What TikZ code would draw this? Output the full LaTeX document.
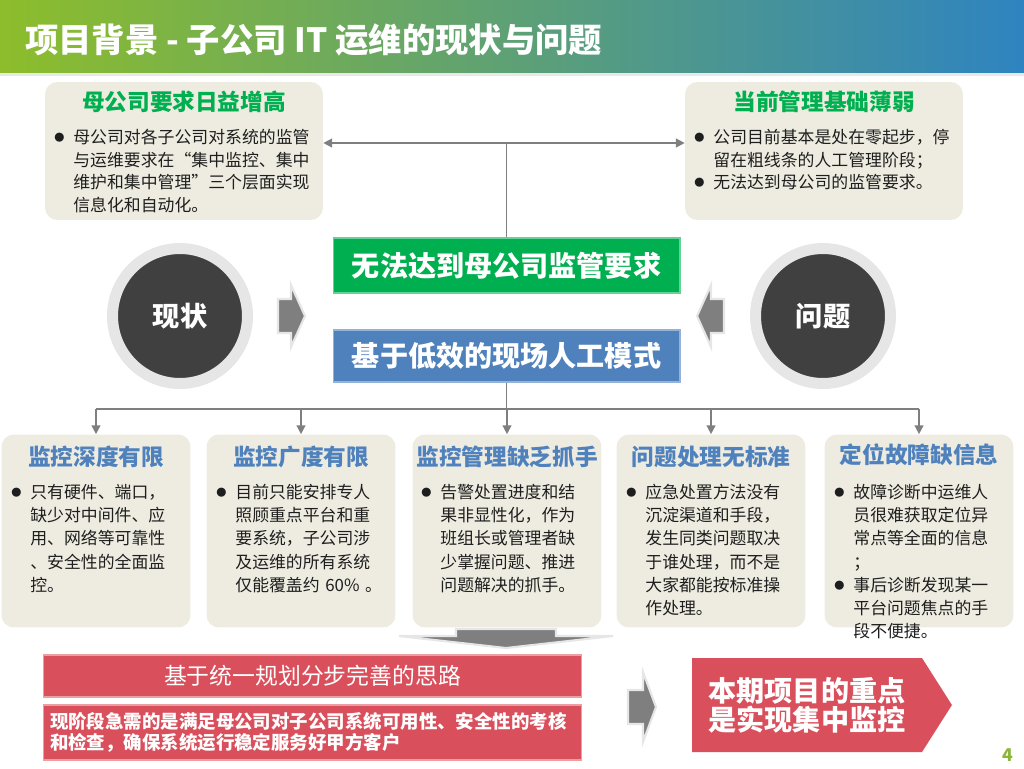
\documentclass[tikz,border=0pt]{standalone}
\usepackage{fontspec}
\setmainfont{Noto Sans CJK SC}
\usepackage{graphicx}
\usepackage{tikz}
\usetikzlibrary{arrows.meta, shapes.symbols}
\definecolor{bandgreen}{HTML}{8DBD2B}
\definecolor{bandblue}{HTML}{2E84C0}
\definecolor{panelbeige}{HTML}{EEECE1}
\definecolor{leafgreen}{HTML}{00B050}
\definecolor{steelblue}{HTML}{4F81BD}
\definecolor{alertred}{HTML}{D9505C}
\definecolor{discgray}{HTML}{404040}
\definecolor{ringgray}{HTML}{E6E6E6}
\definecolor{wiregray}{HTML}{7F7F7F}
\definecolor{textdark}{HTML}{1E1E1E}
\definecolor{pagegreen}{HTML}{8DB43B}
\newcommand{\dotmark}{\raisebox{0.12em}{\scalebox{0.6}{●}}}
\newcommand{\bitem}{\par\hangindent=11.4pt\hangafter=1\noindent\makebox[11.4pt][l]{\hspace{0.6pt}\dotmark}}
\tikzset{
  conn/.style={line width=0.85pt, wiregray},
  arr/.style={-{Triangle[length=5pt, width=5pt]}, line width=0.85pt, wiregray},
  infobox/.style={rectangle, rounded corners=7pt, fill=panelbeige, inner sep=0pt},
  boxtitle/.style={font=\bfseries\fontsize{12.9}{15}\selectfont, inner sep=0pt},
  boxtext/.style={anchor=north west, inner sep=0pt, align=left, text=textdark, font=\fontsize{9.6}{13.2}\selectfont},
  banner/.style={rectangle, inner sep=0pt, text=white, font=\bfseries\fontsize{16}{19}\selectfont},
  redbar/.style={rectangle, inner sep=0pt, fill=alertred, draw=alertred!55!white, line width=0.6pt, text=white},
  blockarr/.style={fill=wiregray, draw=ringgray, line width=1.2pt, line join=miter},
}

\begin{document}
\begin{tikzpicture}[x=0.02cm, y=-0.02cm, font=\fontsize{9.6}{13.2}\selectfont,
    panel/.style={infobox, minimum width=3.78cm, minimum height=3.86cm},
    toppanel/.style={infobox, minimum width=5.56cm, minimum height=2.76cm},
    disc/.style={circle, fill=discgray, draw=ringgray, line width=0.22cm, minimum size=2.7cm, text=white, font=\bfseries\fontsize{15.5}{18}\selectfont}]
  \useasboundingbox (0,0) rectangle (1024,768);

  % Header band
  \shade[left color=bandgreen, right color=bandblue] (0,0) rectangle (1024,73);
  \fill[gray!18] (0,73) rectangle (1024,76);
  \node[anchor=west, text=white, font=\bfseries\fontsize{19}{23}\selectfont] (H) at (19,40) {项目背景 - 子公司 IT 运维的现状与问题};

  % Top panels
  \node[toppanel] (M) at (184,151) {};
  \node[boxtitle, text=leafgreen] (Mt) at (184,102) {母公司要求日益增高};
  \node[boxtext, text width=5.3cm, font=\fontsize{9.6}{12.8}\selectfont] (Mb) at (53,121) {\bitem 母公司对各子公司对系统的监管\newline 与运维要求在“集中监控、集中\newline 维护和集中管理”三个层面实现\newline 信息化和自动化。\par};
  \node[toppanel] (W) at (824,151) {};
  \node[boxtitle, text=leafgreen] (Wt) at (824,102) {当前管理基础薄弱};
  \node[boxtext, text width=5.3cm, font=\fontsize{9.6}{12.8}\selectfont] (Wb) at (693,121) {\bitem 公司目前基本是处在零起步，停\newline 留在粗线条的人工管理阶段；\bitem 无法达到母公司的监管要求。\par};

  % Middle row
  \node[disc] (C1) at (180,316) {现状};
  \node[disc] (C2) at (823,316) {问题};
  \node[banner, fill=leafgreen, draw=leafgreen!60!white, line width=0.6pt, minimum width=6.94cm, minimum height=1.1cm] (G) at (506.5,265.5) {无法达到母公司监管要求};
  \node[banner, fill=steelblue, draw=steelblue!60!white, line width=0.6pt, minimum width=6.94cm, minimum height=1.04cm] (B) at (506.5,356) {基于低效的现场人工模式};
  \fill[blockarr] (278,299) -- (291,299) -- (291,285) -- (305,316) -- (291,347) -- (291,333) -- (278,333) -- cycle;
  \fill[blockarr] (724,299) -- (711,299) -- (711,285) -- (697,316) -- (711,347) -- (711,333) -- (724,333) -- cycle;

  \coordinate (J) at (G.north |- 0,143);
  \draw[conn] (G.north) -- (J);
  \draw[arr] (J) -- (J -| M.east);
  \draw[arr] (J) -- (J -| W.west);

  % Bottom row of five panels
  \node[panel] (K1) at (96,531) {};
  \node[panel] (K2) at (301,531) {};
  \node[panel] (K3) at (507,531) {};
  \node[panel] (K4) at (711,531) {};
  \node[panel] (K5) at (919,531) {};
  \node[boxtitle, text=steelblue] (K1t) at (96,457) {监控深度有限};
  \node[boxtitle, text=steelblue] (K2t) at (301,457) {监控广度有限};
  \node[boxtitle, text=steelblue] (K3t) at (507,457) {监控管理缺乏抓手};
  \node[boxtitle, text=steelblue] (K4t) at (711,457) {问题处理无标准};
  \node[boxtitle, text=steelblue] (K5t) at (919,455) {定位故障缺信息};
  \node[boxtext, text width=3.4cm] (K1b) at (10,475) {\bitem 只有硬件、端口，\newline 缺少对中间件、应\newline 用、网络等可靠性\newline 、安全性的全面监\newline 控。\par};
  \node[boxtext, text width=3.4cm] (K2b) at (215,475) {\bitem 目前只能安排专人\newline 照顾重点平台和重\newline 要系统，子公司涉\newline 及运维的所有系统\newline 仅能覆盖约 60\% 。\par};
  \node[boxtext, text width=3.4cm] (K3b) at (420,475) {\bitem 告警处置进度和结\newline 果非显性化，作为\newline 班组长或管理者缺\newline 少掌握问题、推进\newline 问题解决的抓手。\par};
  \node[boxtext, text width=3.4cm] (K4b) at (625,475) {\bitem 应急处置方法没有\newline 沉淀渠道和手段，\newline 发生同类问题取决\newline 于谁处理，而不是\newline 大家都能按标准操\newline 作处理。\par};
  \node[boxtext, text width=3.4cm] (K5b) at (833,475) {\bitem 故障诊断中运维人\newline 员很难获取定位异\newline 常点等全面的信息\newline ；\bitem 事后诊断发现某一\newline 平台问题焦点的手\newline 段不便捷。\par};

  \coordinate (F) at (B.south |- 0,409);
  \draw[conn] (B.south) -- (F);
  \draw[conn] (F -| K1.north) -- (F -| K5.north);
  \foreach \k in {1,...,5} {
    \draw[arr] (F -| K\k.north) -- (K\k.north);
  }

  % Conclusion row
  \fill[blockarr] (456,629) -- (556,629) -- (556,636) -- (613,636) -- (506,648) -- (399,636) -- (456,636) -- cycle;
  \node[redbar, minimum width=10.78cm, minimum height=0.84cm, font=\fontsize{13}{15}\selectfont] (R1) at (312.5,676) {基于统一规划分步完善的思路};
  \node[redbar, minimum width=10.78cm, minimum height=1.1cm, inner xsep=0.14cm, text width=10.5cm, align=left, font=\bfseries\fontsize{10.5}{12.2}\selectfont] (R2) at (312.5,732.5) {现阶段急需的是满足母公司对子公司系统可用性、安全性的考核\newline 和检查，确保系统运行稳定服务好甲方客户};
  \fill[blockarr] (628,690) -- (643,690) -- (643,672) -- (656,707) -- (643,742) -- (643,724) -- (628,724) -- cycle;
  \node[signal, signal to=east, signal pointer angle=115, fill=alertred, inner sep=0pt, minimum width=5.2cm, minimum height=1.88cm, text=white, align=center, font=\bfseries\fontsize{16}{16.5}\selectfont] (P) at (807,705) {本期项目的重点\\是实现集中监控};

  \node[font=\bfseries\fontsize{10}{12}\selectfont, text=pagegreen] (pg) at (1008,755) {4};
\end{tikzpicture}
\end{document}
